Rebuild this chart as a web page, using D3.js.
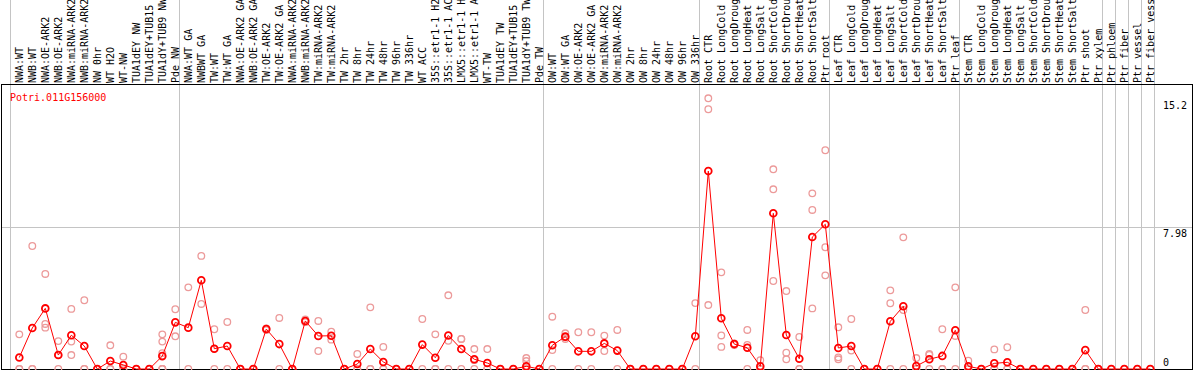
<!DOCTYPE html>
<html>
<head>
<meta charset="utf-8">
<script src="https://cdn.jsdelivr.net/npm/d3@7/dist/d3.min.js"></script>
<style>
body { margin: 0; background: #fff; }
svg { display: block; }
text { font-family: "DejaVu Sans Mono", "Liberation Mono", monospace; font-size: 10px; }
</style>
</head>
<body>
<svg id="chart" width="1194" height="370"></svg>
<script>
//////////////////////////////
// DATA
//////////////////////////////

const geneId = "Potri.011G156000"

const samples = [
	"NWA:WT","NWB:WT","NWA:OE-ARK2","NWB:OE-ARK2","NWA:miRNA-ARK2","NWB:miRNA-ARK2","NW 0hr","WT H2O","WT-NW","TUA1dEY NW","TUA1dEY+TUB15 NW","TUA1dY+TUB9 NW","Pde NW",
	"NWA:WT GA","NWBWT GA","TW:WT","TW:WT GA","NWA:OE-ARK2 GA","NWB:OE-ARK2 GA","TW:OE-ARK2","TW:OE-ARK2 GA","NWA:miRNA-ARK2 GA","NWB:miRNA-ARK2 GA","TW:miRNA-ARK2 GA","TW:miRNA-ARK2",
	"TW 2hr","TW 8hr","TW 24hr","TW 48hr","TW 96hr","TW 336hr","WT ACC","35S::etr1-1 H2O","35S::etr1-1 ACC","LMX5::etr1-1 H2O","LMX5::etr1-1 ACC","WT-TW","TUA1dEY TW","TUA1dEY+TUB15 TW","TUA1dY+TUB9 TW","Pde TW",
	"OW:WT","OW:WT GA","OW:OE-ARK2","OW:OE-ARK2 GA","OW:miRNA-ARK2","OW:miRNA-ARK2","OW 2hr","OW 8hr","OW 24hr","OW 48hr","OW 96hr","OW 336hr",
	"Root CTR","Root LongCold","Root LongDrought","Root LongHeat","Root LongSalt","Root ShortCold","Root ShortDrought","Root ShortHeat","Root ShortSalt","Ptr root",
	"Leaf CTR","Leaf LongCold","Leaf LongDrought","Leaf LongHeat","Leaf LongSalt","Leaf ShortCold","Leaf ShortDrought","Leaf ShortHeat","Leaf ShortSalt","Ptr leaf",
	"Stem CTR","Stem LongCold","Stem LongDrought","Stem LongHeat","Stem LongSalt","Stem ShortCold","Stem ShortDrought","Stem ShortHeat","Stem ShortSalt","Ptr shoot","Ptr xylem",
	"Ptr phloem","Ptr fiber","Ptr vessel","Ptr fiber vessel"
]

const groupSizes = [13, 28, 12, 10, 10, 11, 1, 1, 1, 1]

const means = [
	0.65, 2.32, 3.43, 0.79, 1.91, 1.3, 0, 0.45, 0.23, 0, 0, 0.73, 2.64,
	2.34, 5.02, 1.15, 1.3, 0, 0, 2.26, 1.41, 0, 2.72, 1.87, 1.88,
	0, 0.28, 1.13, 0.4, 0, 0, 1.38, 0.64, 1.9, 1.13, 0.55, 0.34, 0, 0, 0.15, 0,
	1.34, 1.83, 1.0, 1.0, 1.45, 1.04, 0, 0, 0, 0, 0, 1.85,
	11.2, 2.87, 1.41, 1.2, 0.15, 8.81, 1.92, 0.58, 7.47, 8.19,
	1.19, 1.3, 0, 0, 2.7, 3.55, 0.17, 0.55, 0.74, 2.19,
	0.15, 0, 0.32, 0.38, 0, 0, 0, 0, 0, 1.07, 0,
	0, 0, 0, 0
]

const reps = [
	[1.96,0,0],[6.96,0,0],[5.38,2.55,2.34],[1.58,0.79,0],[3.4,1.55,0.79],[3.89,0,0],[0,0],[1.34,0,0],[0.7,0,0],[0,0],[0,0],[1.96,1.55,0.9,0,0,0],[3.38,1.85],
	[4.62,0],[6.4,3.68],[2.25,1.15,0],[2.66,0],[0,0],[0,0],[2.3,2.2],[2.89,0],[0,0],[2.8,2.65],[2.72,1.02],[2.11,1.66],
	[0,0],[0.85,0,0],[3.49,0,0],[1.25,0,0],[0,0],[0,0],[2.83,0],[1.96,0,0],[4.17,1.6,0],[1.7,1.7,0],[1.13,0.5,0],[1.13,0,0],[0,0],[0,0],[0.62,0.45,0,0,0,0,0],[0,0],
	[2.96,1.07,0],[2.02,1.7,1.8],[2.08,0],[2.08,0],[1.89,1.02],[2.21,0],[0,0],[0,0],[0,0],[0,0],[0,0],[3.73,0],
	[15.32,14.7,3.62],[5.47,1.9,1.25],[1.45,1.36],[2.21,1.36,0],[0.5,0,0],[11.3,10.17,4.98],[4.41,0.92,0.55],[1.81,0,0],[9.94,9.0,3.43],[12.38,6.89,5.3],
	[2.36,0.66,0.55],[2.83,1.04,0],[0,0],[0,0],[4.45,3.72,0],[7.45,3.34,0],[0.62,0,0],[0.85,0.8,0],[2.25,0,0],[4.62,1.87,0],
	[0.47,0,0],[0,0],[1.11,0,0],[1.23,0,0],[0,0],[0,0],[0,0],[0,0],[0,0],[3.34,0,0],[0,0],
	[0],[0],[0],[0]
]

const yTicks = [0, 7.98, 15.2]
const yGrid = [7.98]

//////////////////////////////
// CHART
//////////////////////////////

const drawChart = () => {
	let width = 1194
	let headerBottom = 84
	let plotBottom = 369
	let svg = d3.select("#chart")

	let x = d3.scaleBand().domain(d3.range(samples.length)).range([10.5, 1154.5]).padding(0)
	let cx = (i) => x(i) + 8.8
	let y = d3.scaleLinear().domain([0, 15.2]).range([369, 100.4])

	// group separators
	let starts = d3.cumsum([0].concat(groupSizes)).slice(0, -1)
	let seps = Array.from(starts).concat([samples.length])
	svg.append("g").selectAll("line").data(seps).enter().append("line")
		.attr("x1", (d) => d < samples.length ? x(d) : x(d - 1) + x.bandwidth())
		.attr("x2", (d) => d < samples.length ? x(d) : x(d - 1) + x.bandwidth())
		.attr("y1", 0).attr("y2", plotBottom)
		.attr("stroke", "#c4c4c4").attr("stroke-width", 1)
		.attr("shape-rendering", "crispEdges")

	// horizontal grid
	svg.append("g").selectAll("line").data(yGrid).enter().append("line")
		.attr("x1", 1).attr("x2", width - 1)
		.attr("y1", (d) => Math.round(y(d)) - 0.5).attr("y2", (d) => Math.round(y(d)) - 0.5)
		.attr("stroke", "#c4c4c4").attr("shape-rendering", "crispEdges")

	// frame
	svg.append("rect").attr("x", 1.5).attr("y", headerBottom + 0.5)
		.attr("width", width - 3).attr("height", plotBottom - headerBottom)
		.attr("fill", "none").attr("stroke", "#000").attr("shape-rendering", "crispEdges")

	// header labels
	svg.append("g").selectAll("text").data(samples).enter().append("text")
		.attr("transform", (d, i) => "translate(" + (cx(i) + 3.5) + "," + (headerBottom - 1) + ") rotate(-90)")
		.attr("fill", "#000")
		.text((d) => d)

	// gene id
	svg.append("text").attr("x", 10).attr("y", 101).attr("fill", "#ff0000").text(geneId)

	// y tick labels
	svg.append("g").selectAll("text").data(yTicks).enter().append("text")
		.attr("x", 1163)
		.attr("y", (d) => d === 0 ? 366 : y(d) + 9)
		.attr("fill", "#000")
		.text((d) => d)

	// replicate points
	let repPts = []
	reps.forEach((r, i) => r.forEach((v) => repPts.push({ i: i, v: v })))
	svg.append("g").selectAll("circle").data(repPts).enter().append("circle")
		.attr("cx", (d) => cx(d.i)).attr("cy", (d) => y(d.v)).attr("r", 3.3)
		.attr("fill", "none").attr("stroke", "#ec9a9a").attr("stroke-width", 1.3)

	// mean line
	let line = d3.line().x((d, i) => cx(i)).y((d) => y(d))
	svg.append("path").datum(means).attr("d", line)
		.attr("fill", "none").attr("stroke", "#ff0000").attr("stroke-width", 1)

	// mean points
	svg.append("g").selectAll("circle").data(means).enter().append("circle")
		.attr("cx", (d, i) => cx(i)).attr("cy", (d) => y(d)).attr("r", 3.4)
		.attr("fill", "none").attr("stroke", "#ff0000").attr("stroke-width", 1.8)
}

drawChart()
</script>
</body>
</html>
